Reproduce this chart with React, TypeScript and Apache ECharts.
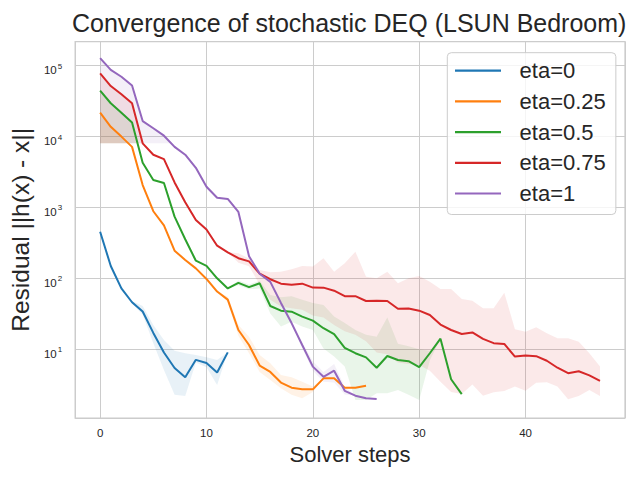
import React, { useEffect, useRef } from 'react';
import * as echarts from 'echarts';

const FONT = '"Liberation Sans", Arial, sans-serif';
const TEXT = '#262626';
const GRID = '#cccccc';

const seriesNames = ['eta=0', 'eta=0.25', 'eta=0.5', 'eta=0.75', 'eta=1'];
const colors = ['#1f77b4', '#ff7f0e', '#2ca02c', '#d62728', '#9467bd'];

// residual per solver step (step = index)
const eta0 = [453, 149, 72, 46, 34, 17, 9.0, 5.45, 4.05, 7.1, 6.4, 4.7, 9.05];
const eta025 = [21500, 13600, 9900, 7100, 2060, 880, 555, 245, 181, 138, 98, 65, 50, 18.7, 11.5, 5.9, 4.8, 3.4, 2.88, 2.73, 2.73, 3.9, 3.9, 2.88, 2.88, 3.07];
const eta05 = [43900, 29200, 21500, 15700, 4250, 2420, 2200, 738, 355, 177, 150, 100, 72, 86, 75, 85, 40.7, 35, 33.9, 28.8, 25.3, 19.8, 16.3, 10.5, 8.8, 7.7, 5.5, 8.05, 7.07, 6.8, 5.6, 8.8, 14.1, 3.78, 2.34];
const eta075 = [77000, 51000, 39000, 29200, 7960, 5500, 4770, 2240, 1180, 663, 486, 288, 232, 192, 173, 116, 97, 84, 81, 84, 74, 73.8, 66.9, 56, 56, 47.9, 48.3, 47.9, 37.3, 37.5, 35, 30.4, 22.3, 18.7, 16.4, 17.3, 14, 12.2, 11.9, 7.9, 8.2, 8.0, 6.9, 5.5, 4.6, 4.9, 4.3, 3.6];
const eta1 = [126000, 86000, 69000, 52000, 16400, 13000, 10200, 7100, 5500, 3600, 1950, 1360, 1310, 860, 205, 116, 89, 45, 23.4, 11.5, 5.7, 4.1, 5.0, 2.6, 2.22, 2.04, 2.0];
const lineValues = [eta0, eta025, eta05, eta075, eta1];

// confidence bands
const band0X = [3, 4, 5, 6, 7, 8, 9, 10, 11, 12];
const band0Lo = [44, 31, 12.2, 5.1, 2.28, 2.2, 6.5, 5.6, 3.14, 9.05];
const band0Hi = [48, 40.7, 22, 13.5, 9.5, 8.8, 8.3, 7.7, 7.07, 9.05];

const band025aX = [0, 1, 2, 2.64];
const band025aLo = [8000, 8000, 8000, 8000];
const band025aHi = [21500, 13600, 9900, 8000];
const band025bX = [11, 12, 13, 14, 15, 16, 17, 18, 19, 20, 21];
const band025bLo = [65, 46, 15.5, 8.8, 4.8, 3.7, 2.82, 2.28, 2.04, 2.5, 3.9];
const band025bHi = [65, 55, 22, 15, 8.3, 6.35, 4.35, 4.04, 3.5, 2.98, 3.9];

const band05aX = [0, 1, 2, 3, 3.52];
const band05aLo = [8000, 8000, 8000, 8000, 8000];
const band05aHi = [43900, 29200, 21500, 15700, 8000];
const band05bX = [12, 13, 14, 15, 16, 17, 18, 19, 20, 21, 22, 23, 24, 25, 26, 27, 28, 29, 30, 31, 32];
const band05bLo = [72, 80, 70, 72, 32, 21, 24.5, 21, 18.7, 10.3, 7.9, 5.7, 1.93, 1.93, 2.4, 2.4, 2.67, 2.28, 1.93, 7, 14.1];
const band05bHi = [72, 93, 82, 92, 58, 54, 56, 50, 45, 42, 29, 23.4, 18.7, 16, 15, 28, 12, 11, 10, 9.5, 14.1];

const band075aX = [0, 1, 2, 3, 4];
const band075aLo = [8000, 8000, 8000, 8000, 7960];
const band075aHi = [77000, 51000, 39000, 29200, 7960];
const band075bX = [12, 13, 14, 15, 16, 17, 18, 19, 20, 21, 22, 23, 24, 25, 26, 27, 28, 29, 30, 31, 32, 33, 34, 35, 36, 37, 38, 39, 40, 41, 42, 43, 44, 45, 46, 47];
const band075bLo = [232, 165, 148, 82, 50, 40, 38, 36, 30, 28, 22, 18, 16, 13, 9, 8.5, 6.5, 6.2, 6.0, 5, 3.5, 2.5, 2.34, 3.2, 2.22, 2.48, 2.59, 2.98, 2.61, 3.39, 3.43, 2.98, 1.98, 2.2, 2.67, 2.2];
const band075bHi = [232, 225, 190, 131, 122, 124, 134, 149, 146, 191, 124, 163, 237, 105, 100, 124, 85, 100, 108, 89.5, 70.6, 70.6, 51, 48.4, 37.8, 37.8, 62.8, 19.2, 17.7, 20.4, 16.8, 14.3, 14.3, 12.8, 8.8, 5.7];

const band1aX = [0, 1, 2, 3, 4, 5, 6, 6.67];
const band1aLo = [8000, 8000, 8000, 8000, 8000, 8000, 8000, 8000];
const band1aHi = [126000, 86000, 69000, 52000, 16400, 13000, 10200, 8000];
const band1bX = [18, 19, 20, 21, 22, 23, 24];
const band1bLo = [23.4, 10.5, 5.0, 3.5, 3.4, 2.3, 2.22];
const band1bHi = [23.4, 12.5, 6.8, 4.8, 6.2, 2.95, 2.22];

const bands = [
  { s: 0, x: band0X, lo: band0Lo, hi: band0Hi },
  { s: 1, x: band025aX, lo: band025aLo, hi: band025aHi },
  { s: 1, x: band025bX, lo: band025bLo, hi: band025bHi },
  { s: 2, x: band05aX, lo: band05aLo, hi: band05aHi },
  { s: 2, x: band05bX, lo: band05bLo, hi: band05bHi },
  { s: 3, x: band075aX, lo: band075aLo, hi: band075aHi },
  { s: 3, x: band075bX, lo: band075bLo, hi: band075bHi },
  { s: 4, x: band1aX, lo: band1aLo, hi: band1aHi },
  { s: 4, x: band1bX, lo: band1bLo, hi: band1bHi },
];

const xTicks = [0, 10, 20, 30, 40];

export default function App() {
  const ref = useRef<HTMLDivElement>(null);
  useEffect(() => {
    if (!ref.current) return;
    const chart = echarts.init(ref.current, undefined, { renderer: 'svg' });

    const bandSeries = bands.map((b) => ({
      type: 'custom',
      silent: true,
      z: 1,
      data: b.x.map((x, i) => [x, b.lo[i], b.hi[i]]),
      encode: { x: 0, y: [1, 2] },
      renderItem: (params: any, api: any) => {
        if (params.dataIndex !== 0) return null;
        const top = b.x.map((x, i) => api.coord([x, b.hi[i]]));
        const bottom = b.x.map((x, i) => api.coord([x, b.lo[i]])).reverse();
        return {
          type: 'polygon',
          silent: true,
          shape: { points: top.concat(bottom) },
          style: { fill: colors[b.s], opacity: 0.1, stroke: 'none' },
        };
      },
    }));

    const lineSeries = lineValues.map((vals, s) => ({
      type: 'line',
      name: seriesNames[s],
      z: 2,
      symbol: 'none',
      showSymbol: false,
      data: vals.map((v, i) => [i, v]),
      lineStyle: { color: colors[s], width: 2 },
      itemStyle: { color: colors[s] },
      emphasis: { disabled: true },
    }));

    chart.setOption({
      animation: false,
      backgroundColor: '#ffffff',
      textStyle: { fontFamily: FONT },
      grid: {
        left: 73.3,
        right: 15,
        top: 41.7,
        bottom: 62,
        show: true,
        borderColor: GRID,
        borderWidth: 1.25,
        backgroundColor: 'transparent',
      },
      graphic: [
        {
          type: 'text',
          x: 349.2,
          y: 23,
          silent: true,
          style: {
            text: 'Convergence of stochastic DEQ (LSUN Bedroom)',
            fontSize: 25,
            fontFamily: FONT,
            fill: TEXT,
            align: 'center',
            verticalAlign: 'middle',
          },
        },
      ],
      legend: {
        data: seriesNames,
        orient: 'vertical',
        left: 447.3,
        top: 52.7,
        padding: [7, 10, 10, 7.7],
        itemGap: 8.7,
        itemWidth: 46,
        itemHeight: 2.2,
        icon: 'rect',
        selectedMode: false,
        backgroundColor: 'rgba(255,255,255,0.8)',
        borderColor: GRID,
        borderWidth: 1,
        borderRadius: 4,
        textStyle: { fontSize: 22, color: TEXT, fontFamily: FONT, padding: [0, 0, 0, 13.6] },
      },
      xAxis: {
        type: 'value',
        min: -2.35,
        max: 49.35,
        minInterval: 10,
        maxInterval: 10,
        axisLine: { show: false },
        axisTick: { show: false },
        splitLine: { show: true, lineStyle: { color: GRID, width: 1 } },
        axisLabel: {
          color: TEXT,
          fontSize: 11.5,
          fontFamily: FONT,
          margin: 9,
          formatter: (v: number) => (xTicks.includes(Math.round(v * 1000) / 1000) ? String(Math.round(v)) : ''),
        },
        name: 'Solver steps',
        nameLocation: 'middle',
        nameGap: 25,
        nameTextStyle: { fontSize: 22, color: TEXT, fontFamily: FONT },
      },
      yAxis: {
        type: 'log',
        logBase: 10,
        min: 1.077,
        max: 215000,
        axisLine: { show: false },
        axisTick: { show: false },
        minorTick: { show: false },
        splitLine: { show: true, lineStyle: { color: GRID, width: 1 } },
        axisLabel: {
          margin: 13,
          formatter: (v: number) => {
            const e = Math.log10(v);
            const r = Math.round(e);
            if (Math.abs(e - r) > 1e-6) return '';
            return `{b|10}{s|${r}}`;
          },
          rich: {
            b: { fontSize: 11.5, lineHeight: 12, fontFamily: FONT, color: TEXT, padding: [9.4, 0, 0, 0] },
            s: { fontSize: 8, lineHeight: 8, fontFamily: FONT, color: TEXT, padding: [1.4, 0, 0, 1] },
          },
        },
        name: 'Residual ||h(x) - x||',
        nameLocation: 'middle',
        nameRotate: 90,
        nameGap: 35,
        nameTextStyle: { fontSize: 24.5, color: TEXT, fontFamily: FONT },
      },
      series: [...bandSeries, ...lineSeries],
    });
    return () => chart.dispose();
  }, []);
  return <div ref={ref} style={{ position: 'absolute', left: 0, top: 0, width: 640, height: 480 }} />;
}
